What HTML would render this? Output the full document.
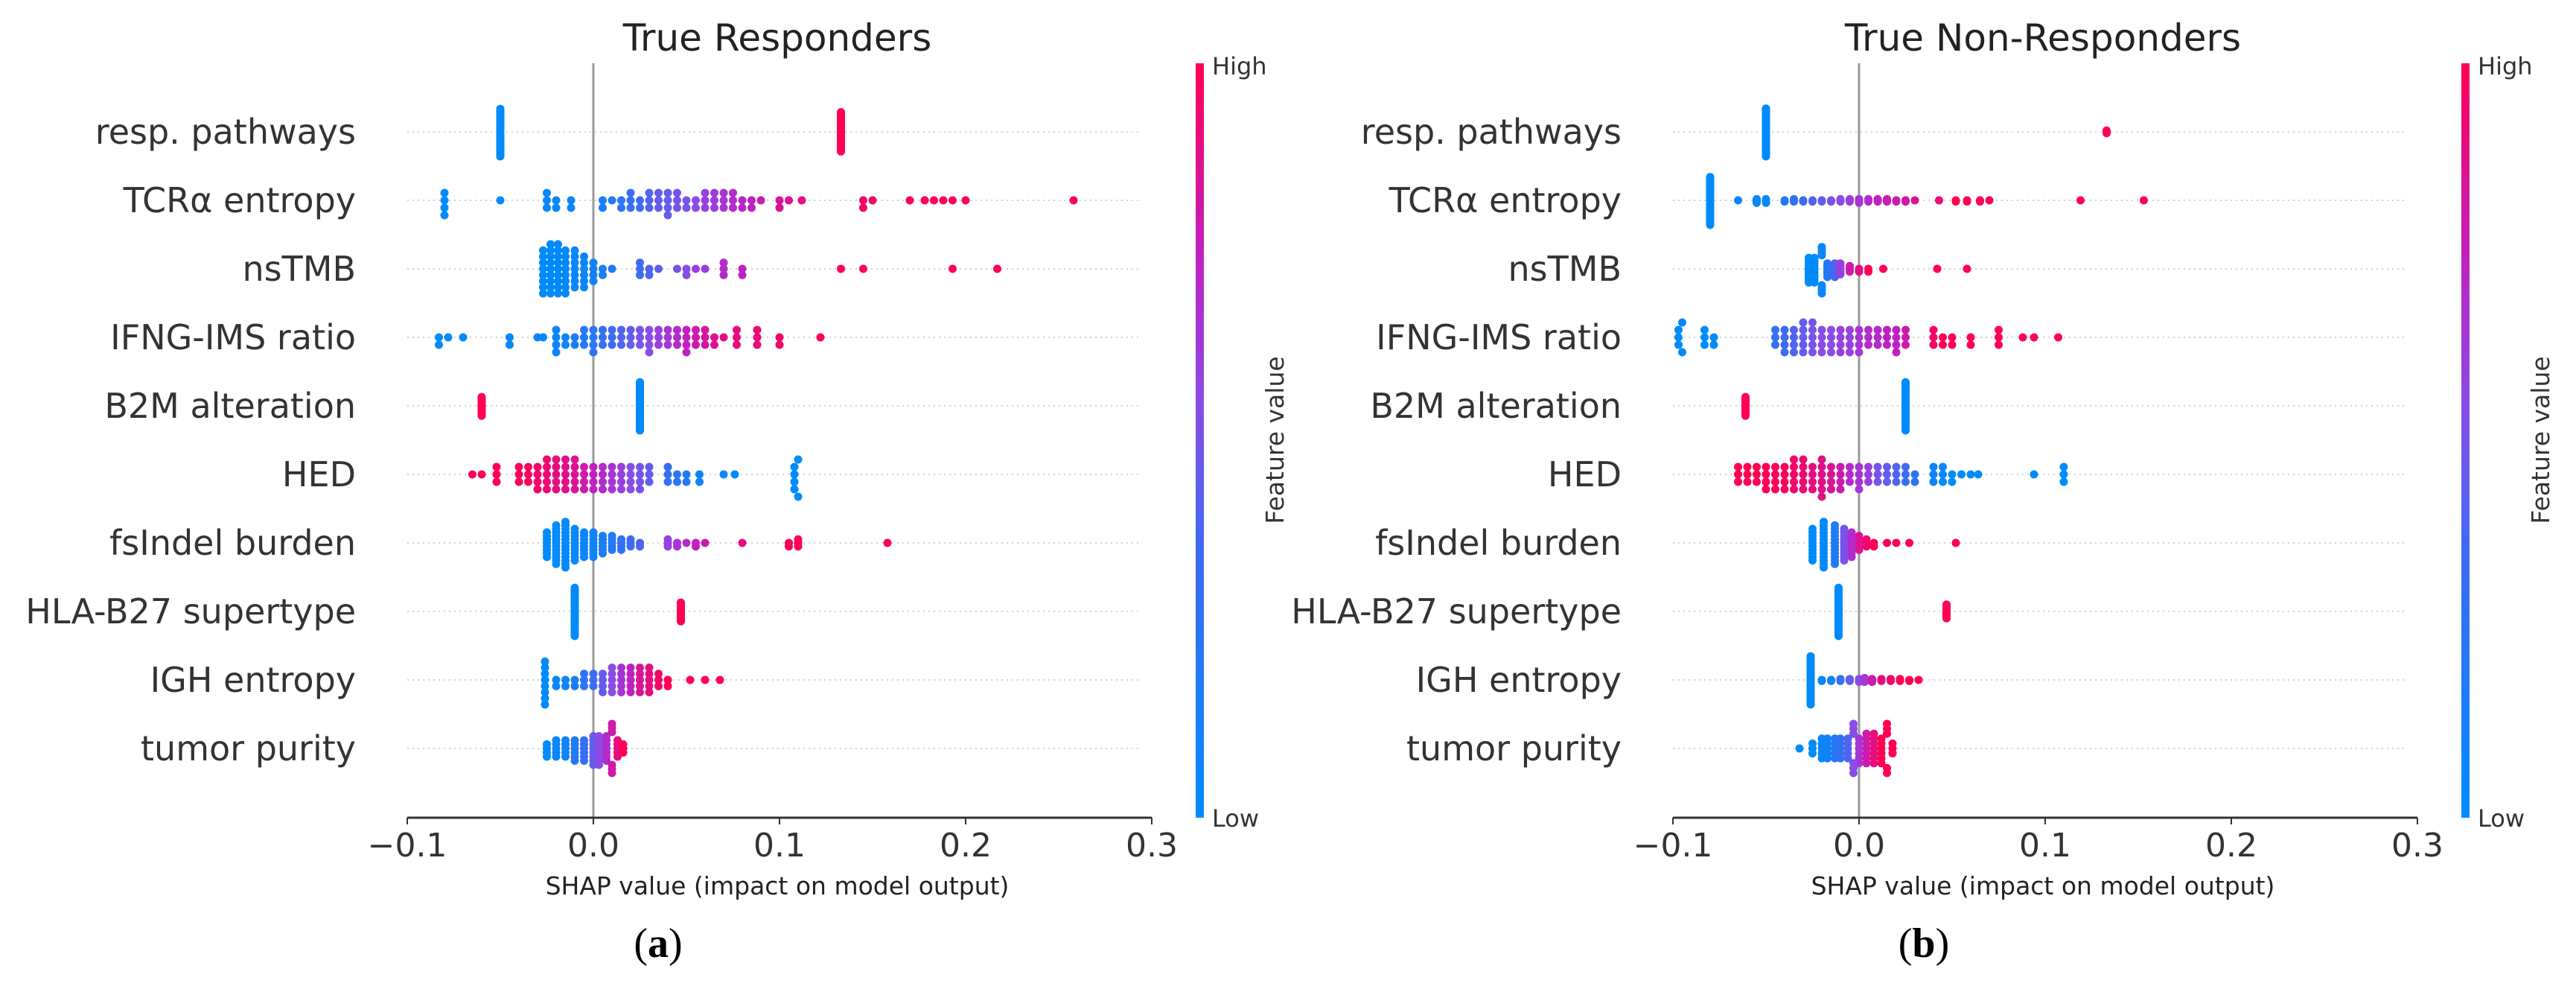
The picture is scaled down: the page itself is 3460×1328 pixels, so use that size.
<!DOCTYPE html>
<html><head><meta charset="utf-8">
<style>
html,body{margin:0;padding:0;background:#fff;}
svg{display:block;}
text{font-family:"DejaVu Sans","Liberation Sans",sans-serif;}
</style></head>
<body>
<svg id="fig" width="3460" height="1328" viewBox="0 0 3460 1328" xmlns="http://www.w3.org/2000/svg">
<defs>
<linearGradient id="cbar" x1="0" y1="1" x2="0" y2="0">
<stop offset="0" stop-color="#008bfb"/><stop offset="0.35" stop-color="#3d6cf2"/><stop offset="0.55" stop-color="#8a4be6"/><stop offset="0.75" stop-color="#c120c0"/><stop offset="1" stop-color="#ff0052"/>
</linearGradient>
</defs>
</svg>
<script>
const features = ["resp. pathways","TCRα entropy","nsTMB","IFNG-IMS ratio","B2M alteration","HED","fsIndel burden","HLA-B27 supertype","IGH entropy","tumor purity"];
const tickValues = [-0.1,0.0,0.1,0.2,0.3];
const tickLabels = ["\u22120.1","0.0","0.1","0.2","0.3"];
const panelTitles = ["True Responders","True Non-Responders"];
const panelLetters = ["a","b"];
// groups: [shap value, feature value (0=low,1=high), count]
const respondersA = [
 [[-0.05,0,30],[0.133,1,25]],
 [[-0.08,0,4],[-0.05,0,1],[-0.025,0.05,3],[-0.02,0.05,2],[-0.012,0.08,2],[0.005,0.15,2],[0.01,0.2,1],[0.015,0.25,2],[0.02,0.3,3],[0.025,0.35,2],[0.03,0.4,3],[0.035,0.45,3],[0.04,0.45,4],[0.045,0.5,3],[0.05,0.5,2],[0.055,0.55,2],[0.06,0.6,3],[0.065,0.62,3],[0.07,0.65,3],[0.075,0.7,3],[0.08,0.72,2],[0.085,0.75,2],[0.09,0.78,1],[0.1,0.85,2],[0.105,0.85,1],[0.112,0.9,1],[0.145,0.95,2],[0.15,0.95,1],[0.17,1,1],[0.178,1,1],[0.183,1,1],[0.188,1,1],[0.193,1,1],[0.2,1,1],[0.258,1,1]],
 [[-0.027,0,8],[-0.023,0,9],[-0.019,0.02,9],[-0.015,0.03,8],[-0.01,0.05,7],[-0.005,0.07,6],[0,0.1,4],[0.005,0.15,2],[0.01,0.2,1],[0.025,0.35,3],[0.03,0.4,2],[0.035,0.45,1],[0.045,0.5,1],[0.05,0.55,2],[0.055,0.6,1],[0.06,0.62,1],[0.07,0.7,3],[0.08,0.75,2],[0.133,1,1],[0.145,1,1],[0.193,1,1],[0.217,1,1]],
 [[-0.083,0,2],[-0.078,0,1],[-0.07,0,1],[-0.045,0.02,2],[-0.03,0.05,1],[-0.027,0.05,1],[-0.02,0.08,4],[-0.015,0.1,2],[-0.01,0.15,2],[-0.005,0.2,3],[0,0.25,4],[0.005,0.3,3],[0.01,0.35,3],[0.015,0.4,3],[0.02,0.45,3],[0.025,0.5,3],[0.03,0.55,4],[0.035,0.6,3],[0.04,0.65,3],[0.045,0.7,3],[0.05,0.75,4],[0.055,0.8,3],[0.06,0.82,3],[0.065,0.85,2],[0.07,0.88,1],[0.077,0.9,3],[0.088,0.92,3],[0.1,0.95,2],[0.122,1,1]],
 [[-0.06,1,20],[0.025,0,50]],
 [[-0.065,1,1],[-0.06,1,1],[-0.052,1,3],[-0.04,0.98,3],[-0.035,0.97,3],[-0.03,0.95,4],[-0.025,0.93,5],[-0.02,0.9,5],[-0.015,0.88,5],[-0.01,0.85,5],[-0.005,0.8,4],[0,0.75,4],[0.005,0.7,4],[0.01,0.65,4],[0.015,0.6,4],[0.02,0.55,4],[0.025,0.5,4],[0.03,0.45,3],[0.04,0.3,3],[0.045,0.25,2],[0.05,0.2,2],[0.057,0.1,2],[0.07,0.05,1],[0.076,0,1],[0.108,0,4],[0.11,0,2]],
 [[-0.025,0,8],[-0.02,0,12],[-0.015,0.02,14],[-0.01,0.05,10],[-0.005,0.08,8],[0,0.1,8],[0.005,0.15,6],[0.01,0.2,5],[0.015,0.3,4],[0.02,0.35,3],[0.025,0.4,2],[0.04,0.6,3],[0.045,0.65,2],[0.05,0.7,1],[0.055,0.75,2],[0.06,0.8,1],[0.08,0.9,1],[0.105,1,2],[0.11,1,3],[0.158,1,1]],
 [[-0.01,0,50],[0.047,1,20]],
 [[-0.026,0,8],[-0.02,0.05,2],[-0.015,0.1,2],[-0.01,0.15,2],[-0.005,0.25,3],[0,0.35,3],[0.005,0.45,4],[0.01,0.55,5],[0.015,0.65,5],[0.02,0.75,5],[0.025,0.85,5],[0.03,0.9,5],[0.035,0.95,3],[0.04,1,2],[0.052,1,1],[0.06,1,1],[0.068,1,1]],
 [[-0.025,0,4],[-0.02,0.05,5],[-0.015,0.1,5],[-0.01,0.2,6],[-0.005,0.3,6],[0,0.45,8],[0.003,0.55,8],[0.007,0.7,7],[0.01,0.8,6],[0.013,0.9,5],[0.016,1,3]]
];
const nonRespondersB = [
 [[-0.05,0,40],[0.133,1,3]],
 [[-0.08,0,40],[-0.065,0.05,1],[-0.055,0.05,4],[-0.05,0.05,4],[-0.04,0.2,2],[-0.035,0.3,3],[-0.03,0.35,2],[-0.025,0.4,2],[-0.02,0.45,2],[-0.015,0.5,2],[-0.01,0.55,3],[-0.005,0.6,3],[0,0.65,4],[0.005,0.7,3],[0.01,0.75,3],[0.015,0.78,3],[0.02,0.8,2],[0.025,0.82,2],[0.03,0.85,1],[0.043,0.9,1],[0.052,1,2],[0.058,1,2],[0.065,1,2],[0.07,1,1],[0.119,1,1],[0.153,1,1]],
 [[-0.027,0,10],[-0.024,0,10],[-0.02,0.05,8],[-0.017,0.2,6],[-0.013,0.4,6],[-0.01,0.6,5],[-0.005,0.8,3],[0,0.9,2],[0.005,1,2],[0.013,1,1],[0.042,1,1],[0.058,1,1]],
 [[-0.097,0,3],[-0.095,0,2],[-0.083,0,3],[-0.078,0,2],[-0.045,0.3,3],[-0.04,0.35,4],[-0.035,0.4,4],[-0.03,0.45,5],[-0.025,0.5,5],[-0.02,0.55,4],[-0.015,0.55,4],[-0.01,0.6,4],[-0.005,0.6,4],[0,0.65,4],[0.005,0.7,3],[0.01,0.7,3],[0.015,0.75,3],[0.02,0.75,4],[0.025,0.8,3],[0.04,0.95,3],[0.045,1,2],[0.05,1,2],[0.06,1,2],[0.075,1,3],[0.088,1,1],[0.094,1,1],[0.107,1,1]],
 [[-0.061,1,20],[0.025,0,50]],
 [[-0.065,1,3],[-0.06,1,3],[-0.055,1,3],[-0.05,1,4],[-0.045,0.98,4],[-0.04,0.97,4],[-0.035,0.95,5],[-0.03,0.93,5],[-0.025,0.9,4],[-0.02,0.88,6],[-0.015,0.85,4],[-0.01,0.8,4],[-0.005,0.7,3],[0,0.65,4],[0.005,0.6,3],[0.01,0.5,3],[0.015,0.45,3],[0.02,0.4,3],[0.025,0.35,3],[0.03,0.25,2],[0.04,0.1,3],[0.045,0.05,3],[0.05,0,2],[0.055,0,1],[0.06,0,1],[0.064,0,1],[0.094,0,1],[0.11,0,3]],
 [[-0.025,0,10],[-0.019,0.02,14],[-0.013,0.2,12],[-0.008,0.5,10],[-0.004,0.7,8],[0,0.85,5],[0.004,0.95,3],[0.008,1,2],[0.015,1,1],[0.02,1,1],[0.027,1,1],[0.052,1,1]],
 [[-0.011,0,50],[0.047,1,15]],
 [[-0.026,0,50],[-0.02,0.05,2],[-0.015,0.1,2],[-0.01,0.3,3],[-0.005,0.45,3],[0,0.55,4],[0.003,0.65,5],[0.007,0.8,4],[0.012,0.9,3],[0.017,0.95,3],[0.022,1,3],[0.027,1,2],[0.032,1,1]],
 [[-0.032,0,1],[-0.025,0,3],[-0.02,0.05,5],[-0.017,0.1,5],[-0.013,0.2,5],[-0.01,0.3,5],[-0.006,0.4,5],[-0.003,0.55,6],[0,0.65,6],[0.004,0.8,7],[0.008,0.9,7],[0.012,1,6],[0.015,1,5],[0.018,1,3]]
];
const panelData = [respondersA, nonRespondersB];

const NS = "http://www.w3.org/2000/svg";
const svg = document.getElementById('fig');
function mk(tag, attrs, parent){ const e=document.createElementNS(NS,tag); for(const k in attrs) e.setAttribute(k,attrs[k]); (parent||svg).appendChild(e); return e; }
const stops=[[0,[0,139,251]],[0.35,[61,108,242]],[0.55,[138,75,230]],[0.75,[193,32,192]],[1,[255,0,82]]];
function cmap(t){ for(let i=1;i<stops.length;i++){ if(t<=stops[i][0]){ const a=stops[i-1],b=stops[i]; const f=(t-a[0])/(b[0]-a[0]); const c=a[1].map((v,j)=>Math.round(v+(b[1][j]-v)*f)); return `rgb(${c[0]},${c[1]},${c[2]})`; } } return 'rgb(255,0,82)'; }

const PXU = 2500, ROW0 = 177, ROWH = 92, AXY = 1098, TOPY = 85;
for(let p=0;p<2;p++){
  const off = p*1700;
  const x0 = 797+off;
  const X = v => x0 + v*PXU;
  const g = mk('g',{});
  
  
  const t = mk('text',{x:1044+off,y:68,'text-anchor':'middle','font-size':50,fill:'#222'},g); t.textContent=panelTitles[p];
  
  
  features.forEach((f,i)=>{
    const y = ROW0+i*ROWH;
    const gl = mk('line',{x1:X(-0.1),x2:X(0.293),y1:y,y2:y,stroke:'#d2d2d2','stroke-width':2,'stroke-dasharray':'2 5'},g);
    
    
    const lb = mk('text',{x:478+off,y:y+16,'text-anchor':'end','font-size':46,fill:'#333'},g); lb.textContent=f;
    
    
  });
  const zl = mk('line',{x1:X(0),x2:X(0),y1:TOPY,y2:AXY,stroke:'#999','stroke-width':3},g);
  
  
  const dotsG = mk('g',{},g);
  
  
  panelData[p].forEach((groups,i)=>{
    const pts=[]; groups.forEach(gr=>{ for(let k=0;k<gr[2];k++) pts.push([gr[0],gr[1]]); });
    const bins={};
    pts.forEach(pt=>{ const b=Math.round(pt[0]/0.0044); (bins[b]=bins[b]||[]).push(pt); });
    let maxL=0; const placed=[];
    Object.values(bins).forEach(arr=>{
      arr.sort((a,b)=>a[1]-b[1]);
      arr.forEach((pt,k)=>{ const layer = k===0?0:(k%2? (k+1)/2 : -k/2); maxL=Math.max(maxL,Math.abs(layer)); placed.push([pt,layer]); });
    });
    const step = maxL>0 ? Math.min(10, 33/maxL) : 0;
    const y = ROW0+i*ROWH;
    placed.forEach(([pt,layer])=>{
      const c = mk('circle',{cx:X(pt[0]).toFixed(1),cy:(y+layer*step).toFixed(1),r:5.5,fill:cmap(pt[1])},dotsG);
      
      
    });
  });
  const ax = mk('line',{x1:X(-0.1),x2:X(0.3),y1:AXY,y2:AXY,stroke:'#333','stroke-width':3},g);
  
  
  tickValues.forEach((v,k)=>{
    const tk = mk('line',{x1:X(v),x2:X(v),y1:AXY,y2:AXY+9,stroke:'#333','stroke-width':2},g);
    
    
    const tl = mk('text',{x:X(v),y:1150,'text-anchor':'middle','font-size':44,fill:'#333'},g); tl.textContent=tickLabels[k];
    
    
  });
  const xl = mk('text',{x:1044+off,y:1201,'text-anchor':'middle','font-size':33,fill:'#222'},g); xl.textContent='SHAP value (impact on model output)';
  
  
  const cb = mk('rect',{x:1606+off,y:TOPY,width:11,height:AXY-TOPY,fill:'url(#cbar)'},g);
  
  
  const hi = mk('text',{x:1628+off,y:100,'font-size':32,fill:'#333'},g); hi.textContent='High';
  
  
  const lo = mk('text',{x:1628+off,y:1110,'font-size':32,fill:'#333'},g); lo.textContent='Low';
  
  
  const fv = mk('text',{x:1724+off,y:591,'text-anchor':'middle','font-size':33,fill:'#333',transform:`rotate(-90 ${1724+off} 591)`},g); fv.textContent='Feature value';
  
  
  const lt = mk('text',{x:884+off,y:1285,'text-anchor':'middle','font-size':56,fill:'#000'},g);
  lt.style.fontFamily='"Liberation Serif",serif';
  lt.innerHTML='(<tspan font-weight="bold">'+panelLetters[p]+'</tspan>)';
  
  
}
</script>
</body></html>
